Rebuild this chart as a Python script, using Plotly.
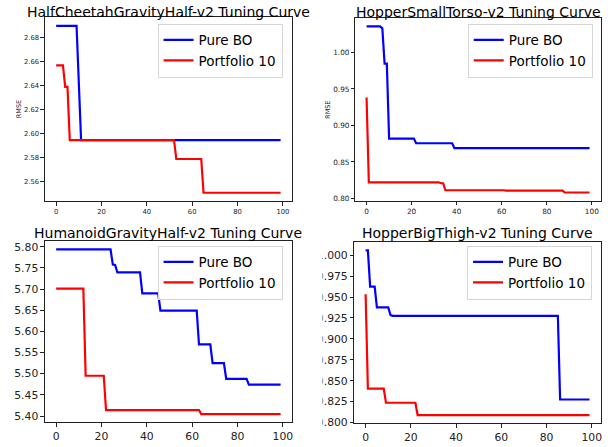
import plotly.graph_objects as go

W, H = 611, 447

# ---------------- data (breakpoints of best-so-far curves) ----------------
titles = ["HalfCheetahGravityHalf-v2 Tuning Curve", "HopperSmallTorso-v2 Tuning Curve",
          "HumanoidGravityHalf-v2 Tuning Curve", "HopperBigThigh-v2 Tuning Curve"]
series_names = ["Pure BO", "Portfolio 10"]

hc_bo_x = [0, 9, 11, 99]
hc_bo_y = [2.690, 2.690, 2.5945, 2.5945]
hc_pf_x = [0, 3, 4, 5, 6, 52, 53, 64, 65, 99]
hc_pf_y = [2.657, 2.657, 2.639, 2.639, 2.5945, 2.5945, 2.5787, 2.5787, 2.5505, 2.5505]

hst_bo_x = [0, 6, 7, 8, 9, 10, 21, 22, 38, 39, 99]
hst_bo_y = [1.0358, 1.0358, 1.033, 0.9846, 0.9846, 0.882, 0.882, 0.8757, 0.8757, 0.869, 0.869]
hst_pf_x = [0, 1, 32, 33, 34, 35, 61, 62, 87, 88, 99]
hst_pf_y = [0.9383, 0.8222, 0.8222, 0.8209, 0.8209, 0.8113, 0.8113, 0.8108, 0.8108, 0.8082, 0.8082]

hum_bo_x = [0, 24, 25, 26, 27, 37, 38, 45, 46, 62, 63, 68, 69, 74, 75, 84, 85, 99]
hum_bo_y = [5.7938, 5.7938, 5.758, 5.757, 5.7396, 5.7396, 5.690, 5.690, 5.649, 5.649,
            5.5694, 5.5694, 5.5252, 5.5252, 5.488, 5.488, 5.4744, 5.4744]
hum_pf_x = [0, 12, 13, 21, 22, 63, 64, 99]
hum_pf_y = [5.7009, 5.7009, 5.4952, 5.4952, 5.4139, 5.4139, 5.4046, 5.4046]

hbt_bo_x = [0, 1, 2, 4, 5, 10, 11, 12, 85, 86, 99]
hbt_bo_y = [1.0058, 1.0058, 0.9626, 0.9626, 0.9377, 0.9377, 0.9284, 0.9276, 0.9276, 0.8276, 0.8276]
hbt_pf_x = [0, 1, 8, 9, 22, 23, 99]
hbt_pf_y = [0.9533, 0.8405, 0.8405, 0.8237, 0.8237, 0.809, 0.809]

x_ticks = [0, 20, 40, 60, 80, 100]
hc_y_ticks = [2.56, 2.58, 2.60, 2.62, 2.64, 2.66, 2.68]
hst_y_ticks = [0.80, 0.85, 0.90, 0.95, 1.00]
hum_y_ticks = [5.40, 5.45, 5.50, 5.55, 5.60, 5.65, 5.70, 5.75, 5.80]
hbt_y_ticks = [0.800, 0.825, 0.850, 0.875, 0.900, 0.925, 0.950, 0.975, 1.000]

# ---------------- layout geometry (pixels) ----------------
panels = [
    dict(bo=(hc_bo_x, hc_bo_y), pf=(hc_pf_x, hc_pf_y), ticks=hc_y_ticks, fmt=".2f",
         box=(45, 292.3, 16.7, 203.3), tick_font=6.8, title_y=11, ylabel_x=19, leg=(283, 23)),
    dict(bo=(hst_bo_x, hst_bo_y), pf=(hst_pf_x, hst_pf_y), ticks=hst_y_ticks, fmt=".2f",
         box=(356, 601.7, 17.3, 203), tick_font=7.3, title_y=11, ylabel_x=329, leg=(593.7, 23)),
    dict(bo=(hum_bo_x, hum_bo_y), pf=(hum_pf_x, hum_pf_y), ticks=hum_y_ticks, fmt=".2f",
         box=(45, 292.3, 244, 428), tick_font=10.8, title_y=235.5, ylabel_x=None, leg=(283, 248.5)),
    dict(bo=(hbt_bo_x, hbt_bo_y), pf=(hbt_pf_x, hbt_pf_y), ticks=hbt_y_ticks, fmt=".3f",
         box=(355, 601.7, 245, 429), tick_font=10.8, title_y=235.5, ylabel_x=None, leg=(593, 248.5)),
]

FONT = "DejaVu Sans"
fig = go.Figure()
layout = dict(width=W, height=H, margin=dict(l=0, r=0, t=0, b=0),
              paper_bgcolor="white", plot_bgcolor="white",
              font=dict(family=FONT, color="black"), showlegend=True,
              annotations=[], shapes=[])

for i, p in enumerate(panels):
    n = i + 1
    xa = "xaxis" if n == 1 else f"xaxis{n}"
    ya = "yaxis" if n == 1 else f"yaxis{n}"
    xref = "x" if n == 1 else f"x{n}"
    yref = "y" if n == 1 else f"y{n}"
    leg = "legend" if n == 1 else f"legend{n}"
    for (xs, ys), name, col in [(p["bo"], series_names[0], "blue"), (p["pf"], series_names[1], "red")]:
        fig.add_trace(go.Scatter(x=xs, y=ys, mode="lines", name=name,
                                 line=dict(color=col, width=2.2),
                                 xaxis=xref, yaxis=yref, legend=leg))
    allx = p["bo"][0] + p["pf"][0]
    ally = p["bo"][1] + p["pf"][1]
    xmin, xmax = min(allx), max(allx)
    ymin, ymax = min(ally), max(ally)
    dx, dy = (xmax - xmin) * 0.05, (ymax - ymin) * 0.05
    l, r, t, b = p["box"]
    common = dict(showline=True, linecolor="#222", linewidth=1, mirror=True,
                  showgrid=False, zeroline=False, ticks="outside", ticklen=3.5,
                  tickwidth=1, tickcolor="#222",
                  tickfont=dict(family=FONT, size=p["tick_font"], color="#222"))
    layout[xa] = dict(common, domain=[l / W, r / W], range=[xmin - dx, xmax + dx],
                      tickvals=x_ticks, anchor=yref)
    layout[ya] = dict(common, domain=[1 - b / H, 1 - t / H], range=[ymin - dy, ymax + dy],
                      tickvals=p["ticks"], tickformat=p["fmt"], anchor=xref)
    layout[leg] = dict(x=p["leg"][0] / W, y=1 - p["leg"][1] / H, xanchor="right", yanchor="top",
                       bgcolor="rgba(255,255,255,0.85)", bordercolor="#d6d6d6", borderwidth=1,
                       font=dict(family=FONT, size=13.5, color="black"),
                       tracegroupgap=0, itemwidth=30)
    layout["annotations"].append(dict(text=titles[i], x=(l + r) / 2 / W, y=1 - p["title_y"] / H,
                                      xref="paper", yref="paper", xanchor="center", yanchor="middle",
                                      showarrow=False, font=dict(family=FONT, size=14, color="black")))
    if p["ylabel_x"] is not None:
        layout["annotations"].append(dict(text="RMSE", x=p["ylabel_x"] / W, y=1 - (t + b) / 2 / H,
                                          xref="paper", yref="paper", xanchor="center", yanchor="middle",
                                          textangle=-90, showarrow=False,
                                          font=dict(family=FONT, size=6.5, color="#222")))

# the bottom-right panel of the reference is cropped on its left side
layout["shapes"].append(dict(type="rect", xref="paper", yref="paper", layer="above",
                             x0=300 / W, x1=323 / W, y0=1 - 440 / H, y1=1 - 244 / H,
                             fillcolor="white", line=dict(width=0)))

fig.update_layout(**layout)
fig.write_html("out.html", config={"displayModeBar": False},
               post_script="document.body.style.margin='0px';")
